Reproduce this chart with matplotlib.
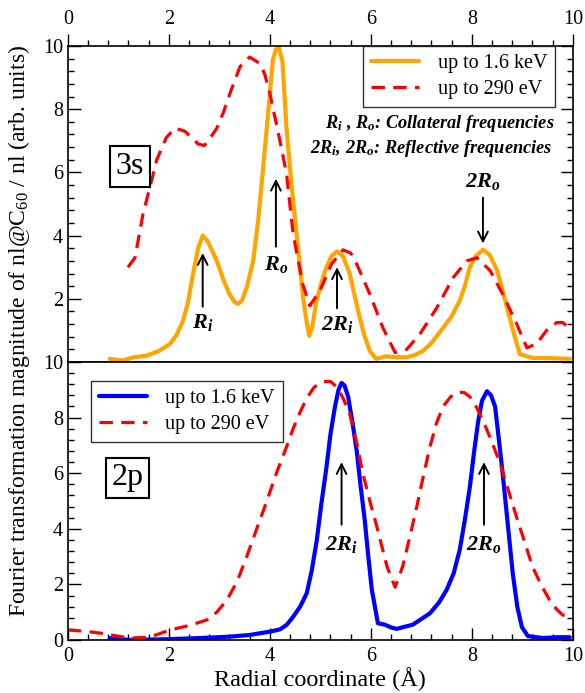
import numpy as np
import matplotlib
matplotlib.use("Agg")
import matplotlib.pyplot as plt
from matplotlib.ticker import MultipleLocator

plt.rcParams["font.family"] = ["Liberation Serif", "DejaVu Serif"]
plt.rcParams["mathtext.fontset"] = "custom"
plt.rcParams["mathtext.rm"] = "Liberation Serif"
plt.rcParams["mathtext.it"] = "Liberation Serif:italic"
plt.rcParams["mathtext.bf"] = "Liberation Serif:bold:italic"

# ---- 3s panel ----
s3_kev_r = [0.83, 1.09, 1.3, 1.56, 1.8, 2.02, 2.15, 2.28, 2.38, 2.48, 2.58, 2.67, 2.76,
            2.85, 2.95, 3.08, 3.2, 3.3, 3.37, 3.45, 3.55, 3.67, 3.77, 3.87, 3.95, 4.0,
            4.06, 4.12, 4.18, 4.25, 4.33, 4.43, 4.53, 4.65, 4.72, 4.78, 4.84, 4.92,
            5.02, 5.12, 5.22, 5.33, 5.45, 5.58, 5.68, 5.78, 5.88, 5.98, 6.1, 6.3,
            6.5, 6.71, 6.87, 7.03, 7.2, 7.43, 7.6, 7.76, 7.86, 7.96, 8.08, 8.22,
            8.35, 8.5, 8.62, 8.75, 8.85, 8.95, 9.2, 9.6, 9.94]
s3_kev = [0.1, 0.05, 0.15, 0.2, 0.35, 0.57, 0.85, 1.3, 1.9, 2.8, 3.6, 4.0, 3.85,
          3.55, 3.2, 2.6, 2.15, 1.9, 1.84, 1.95, 2.4, 3.2, 4.5, 6.2, 7.6, 8.5,
          9.55, 9.9, 9.95, 9.5, 7.4, 5.6, 4.06, 2.15, 1.35, 0.83, 1.1, 1.93,
          2.5, 3.0, 3.35, 3.5, 3.35, 2.8, 2.1, 1.4, 0.8, 0.35, 0.1, 0.18,
          0.15, 0.15, 0.22, 0.35, 0.6, 1.08, 1.45, 1.94, 2.4, 3.0, 3.35, 3.55,
          3.4, 2.9, 2.2, 1.4, 0.8, 0.25, 0.13, 0.12, 0.1]

s3_ev_r = [1.19, 1.33, 1.49, 1.62, 1.76, 1.95, 2.12, 2.32, 2.45, 2.58, 2.7, 2.78,
           2.95, 3.08, 3.21, 3.41, 3.6, 3.8, 3.9, 4.0, 4.2, 4.33, 4.46, 4.65, 4.79,
           4.99, 5.22, 5.45, 5.6, 5.72, 5.98, 6.24, 6.48, 6.71, 6.97, 7.3, 7.63,
           7.9, 8.1, 8.36, 8.61, 8.89, 9.09, 9.28, 9.48, 9.68, 9.8, 9.94]
s3_ev = [3.0, 3.3, 4.7, 5.5, 6.4, 7.1, 7.4, 7.3, 7.1, 6.9, 6.85, 7.0,
         7.4, 7.9, 8.5, 9.35, 9.65, 9.45, 9.1, 8.5, 7.0, 5.96, 4.06, 2.47, 1.78,
         2.25, 3.1, 3.55, 3.45, 3.1, 2.15, 1.08, 0.3, 0.4, 0.88, 1.7, 2.67,
         3.2, 3.3, 2.9, 2.15, 1.2, 0.45, 0.57, 1.0, 1.25, 1.25, 1.05]

# ---- 2p panel ----
p2_kev_r = [0.83, 1.23, 2.0, 2.61, 3.2, 3.6, 4.0, 4.2, 4.33, 4.46, 4.6, 4.73, 4.83,
            4.93, 5.02, 5.12, 5.2, 5.29, 5.36, 5.42, 5.48, 5.55, 5.63, 5.72, 5.8,
            5.88, 5.95, 6.02, 6.14, 6.28, 6.4, 6.51, 6.83, 7.17, 7.35, 7.5, 7.64,
            7.76, 7.86, 7.96, 8.04, 8.12, 8.2, 8.3, 8.38, 8.46, 8.53, 8.61, 8.71,
            8.81, 8.9, 8.99, 9.11, 9.41, 9.7, 9.94]
p2_kev = [0.07, 0.0, 0.03, 0.07, 0.12, 0.18, 0.3, 0.38, 0.54, 0.83, 1.2, 1.68, 2.5,
          3.6, 4.9, 6.2, 7.4, 8.4, 9.0, 9.25, 9.15, 8.75, 7.9, 6.8, 5.5,
          4.3, 3.0, 1.8, 0.6, 0.55, 0.45, 0.4, 0.55, 0.96, 1.35, 1.8, 2.4,
          3.24, 4.3, 5.5, 6.7, 7.8, 8.6, 8.95, 8.8, 8.4, 7.3, 6.0, 4.2,
          2.4, 1.2, 0.47, 0.14, 0.07, 0.1, 0.1]

p2_ev_r = [0.0, 0.3, 0.63, 0.95, 1.23, 1.62, 2.02, 2.4, 2.75, 2.95, 3.15, 3.35,
           3.54, 3.74, 3.94, 4.13, 4.33, 4.46, 4.6, 4.73, 4.88, 5.05, 5.2, 5.33,
           5.45, 5.58, 5.72, 5.84, 5.98, 6.12, 6.32, 6.48, 6.63, 6.77, 6.91, 7.04,
           7.17, 7.3, 7.43, 7.58, 7.72, 7.85, 7.96, 8.1, 8.22, 8.38, 8.55, 8.72,
           8.89, 9.05, 9.2, 9.38, 9.54, 9.68, 9.8, 9.98]
p2_ev = [0.36, 0.32, 0.25, 0.15, 0.07, 0.1, 0.36, 0.52, 0.72, 1.0, 1.44, 2.1,
         2.99, 4.0, 5.0, 6.0, 6.95, 7.6, 8.2, 8.7, 9.1, 9.3, 9.3, 9.1,
         8.7, 8.15, 7.1, 6.0, 5.0, 4.07, 2.64, 1.9, 2.64, 3.7, 4.8, 5.9,
         6.95, 7.8, 8.4, 8.75, 8.92, 8.9, 8.75, 8.35, 7.9, 7.2, 6.4, 5.4,
         4.4, 3.5, 2.64, 1.95, 1.44, 1.1, 0.9, 0.8]

label_kev = "up to 1.6 keV"
label_ev = "up to 290 eV"

fig = plt.figure(figsize=(5.85, 6.93), dpi=100)
ax1 = fig.add_axes([0.116, 0.4776, 0.8632, 0.456])
ax2 = fig.add_axes([0.116, 0.0765, 0.8632, 0.4011])

dash = (0, (4.2, 2.6))
ax1.plot(s3_kev_r, s3_kev, color="#FFA500", lw=3.0, label=label_kev,
         solid_joinstyle="round", solid_capstyle="round")
ax1.plot(s3_ev_r, s3_ev, color="#FF0000", lw=2.3, linestyle=dash, label=label_ev)
ax2.plot(p2_kev_r, p2_kev, color="#0000FF", lw=3.0, label=label_kev,
         solid_joinstyle="round", solid_capstyle="round")
ax2.plot(p2_ev_r, p2_ev, color="#FF0000", lw=2.3, linestyle=dash, label=label_ev)

for ax in (ax1, ax2):
    ax.set_xlim(0, 10)
    ax.set_ylim(0, 10)
    ax.xaxis.set_major_locator(MultipleLocator(2))
    ax.xaxis.set_minor_locator(MultipleLocator(0.4))
    ax.yaxis.set_major_locator(MultipleLocator(2))
    ax.yaxis.set_minor_locator(MultipleLocator(0.4))
    ax.tick_params(which="major", length=9, width=1, labelsize=14.5, color="black")
    ax.tick_params(which="minor", length=4.5, width=1)
    ax.tick_params(axis="y", which="both", direction="in", left=True, right=True)
    for sp in ax.spines.values():
        sp.set_linewidth(1.2)

ax1.tick_params(axis="x", which="both", direction="out", top=True, bottom=False,
                labeltop=True, labelbottom=False)
ax1.set_yticks([2, 4, 6, 8, 10])
ax2.tick_params(axis="x", which="both", direction="in", top=False, bottom=True,
                labelbottom=True, pad=5)

leg_kw = dict(fontsize=14.5, frameon=True, fancybox=False, edgecolor="black",
              handlelength=2.4, borderpad=0.4, labelspacing=0.35, handletextpad=0.9,
              borderaxespad=0)
l1 = ax1.legend(loc="upper right", bbox_to_anchor=(0.965, 1.0), **leg_kw)
l2 = ax2.legend(loc="upper left", bbox_to_anchor=(0.045, 0.932), **leg_kw)
for lg in (l1, l2):
    lg.get_frame().set_linewidth(1.0)

box = dict(boxstyle="square,pad=0.18", facecolor="white", edgecolor="black", lw=1.5)
ax1.text(1.23, 6.19, "3s", fontsize=23, ha="center", va="center", bbox=box)
ax2.text(1.18, 5.83, "2p", fontsize=23, ha="center", va="center", bbox=box)

arrow = dict(arrowstyle="->,head_length=0.7,head_width=0.35", color="black", lw=1.4,
             shrinkA=0, shrinkB=0)
lab = dict(fontsize=16, ha="center", va="center")

# 3s annotations
ax1.annotate("", xy=(2.67, 3.45), xytext=(2.67, 1.75), arrowprops=arrow)
ax1.text(2.67, 1.25, r"$\mathbf{R_i}$", **lab)
ax1.annotate("", xy=(4.12, 5.8), xytext=(4.12, 3.65), arrowprops=arrow)
ax1.text(4.12, 3.1, r"$\mathbf{R_o}$", **lab)
ax1.annotate("", xy=(5.33, 3.0), xytext=(5.33, 1.7), arrowprops=arrow)
ax1.text(5.33, 1.2, r"$\mathbf{2R_i}$", **lab)
ax1.annotate("", xy=(8.22, 3.75), xytext=(8.22, 5.2), arrowprops=arrow)
ax1.text(8.22, 5.7, r"$\mathbf{2R_o}$", **lab)
note = dict(fontsize=13.2, ha="right", va="center", fontweight="bold", style="italic")
ax1.text(9.64, 7.55, r"$\mathbf{R_i}$ , $\mathbf{R_o}$: Collateral frequencies", **note)
ax1.text(9.6, 6.75, r"$\mathbf{2R_i}$, $\mathbf{2R_o}$: Reflective frequencies", **note)

# 2p annotations
ax2.annotate("", xy=(5.42, 6.4), xytext=(5.42, 4.15), arrowprops=arrow)
ax2.text(5.42, 3.45, r"$\mathbf{2R_i}$", **lab)
ax2.annotate("", xy=(8.24, 6.4), xytext=(8.24, 4.15), arrowprops=arrow)
ax2.text(8.24, 3.45, r"$\mathbf{2R_o}$", **lab)

ax2.set_xlabel("Radial coordinate (Å)", fontsize=17.5, labelpad=1)
fig.text(0.033, 0.522, r"Fourier transformation magnitude of nl@C$_{\mathrm{60}}$ / nl (arb. units)",
         rotation=90, fontsize=17, ha="center", va="center")

fig.savefig("out.png", dpi=100)
